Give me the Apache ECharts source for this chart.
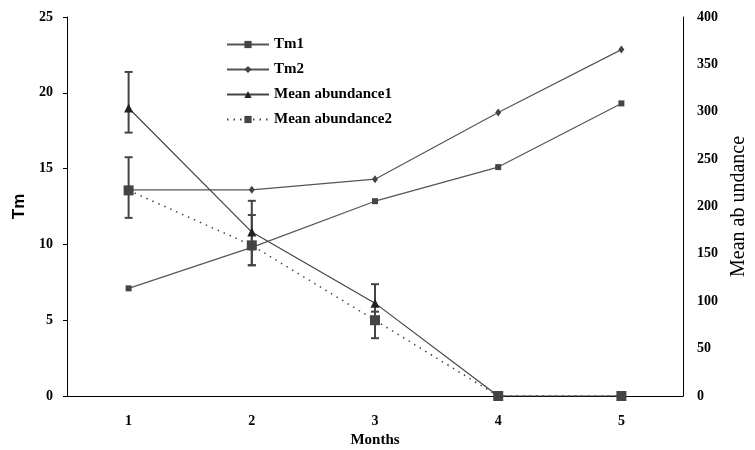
<!DOCTYPE html>
<html>
<head>
<meta charset="utf-8">
<script src="https://cdn.jsdelivr.net/npm/echarts@6/dist/echarts.min.js"></script>
<style>
  html, body { margin: 0; padding: 0; background: #fff; }
  #chart { width: 755px; height: 450px; }
</style>
</head>
<body>
<div id="chart"></div>
<script>
  // data
  var months = ['1', '2', '3', '4', '5'];
  var tm1 = [7.1, 9.8, 12.85, 15.1, 19.3];
  var tm2 = [13.6, 13.6, 14.3, 18.7, 22.85];
  var abundance1 = [304, 173, 98, 0, 0];
  var abundance2 = [217, 159, 80, 0, 0];
  // error bar ranges [low, high]
  var err1 = [[278, 342], [138, 206], [78, 118]];
  var err2 = [[188, 252], [138, 191], [61, 89]];

  var serif = '"Liberation Serif", "Times New Roman", serif';

  function errorSeries(name, ranges) {
    return {
      name: name,
      type: 'custom',
      yAxisIndex: 1,
      z: 3,
      data: ranges.map(function (r, i) { return [i, r[0], r[1]]; }),
      renderItem: function (params, api) {
        var lo = api.coord([api.value(0), api.value(1)]);
        var hi = api.coord([api.value(0), api.value(2)]);
        var w = 4;
        var st = { stroke: '#444', lineWidth: 2 };
        return {
          type: 'group',
          children: [
            { type: 'line', shape: { x1: hi[0], y1: hi[1], x2: lo[0], y2: lo[1] }, style: st },
            { type: 'line', shape: { x1: hi[0] - w, y1: hi[1], x2: hi[0] + w, y2: hi[1] }, style: st },
            { type: 'line', shape: { x1: lo[0] - w, y1: lo[1], x2: lo[0] + w, y2: lo[1] }, style: st }
          ]
        };
      },
      tooltip: { show: false }
    };
  }

  var chart = echarts.init(document.getElementById('chart'));
  chart.setOption({
    animation: false,
    backgroundColor: '#fff',
    grid: { left: 67, right: 72, top: 17, bottom: 54, outerBoundsMode: 'none', containLabel: false },
    legend: {
      orient: 'vertical',
      left: 226,
      top: 37,
      padding: 0,
      itemWidth: 42,
      itemHeight: 9,
      itemGap: 10,
      textStyle: { fontFamily: serif, fontWeight: 'bold', fontSize: 15, color: '#000' },
      data: ['Tm1', 'Tm2', 'Mean abundance1', 'Mean abundance2']
    },
    xAxis: {
      type: 'category',
      data: months,
      name: 'Months',
      nameLocation: 'middle',
      nameGap: 34,
      nameTextStyle: { fontFamily: serif, fontWeight: 'bold', fontSize: 15, color: '#000' },
      axisLine: { lineStyle: { color: '#000', width: 1 } },
      axisTick: { inside: true, length: 4, lineStyle: { color: '#000' } },
      axisLabel: { margin: 18, fontFamily: serif, fontWeight: 'bold', fontSize: 14, color: '#000' }
    },
    yAxis: [
      {
        type: 'value',
        min: 0, max: 25, interval: 5,
        name: 'Tm',
        nameLocation: 'middle',
        nameGap: 38,
        nameRotate: 90,
        nameTextStyle: { fontFamily: '"Liberation Sans", Arial, sans-serif', fontWeight: 'bold', fontSize: 17, color: '#000' },
        splitLine: { show: false },
        axisLine: { show: true, lineStyle: { color: '#000' } },
        axisTick: { show: true, length: 4, lineStyle: { color: '#000' } },
        axisLabel: { margin: 14, fontFamily: serif, fontWeight: 'bold', fontSize: 14, color: '#000' }
      },
      {
        type: 'value',
        min: 0, max: 400, interval: 50,
        name: 'Mean ab undance',
        nameLocation: 'middle',
        nameGap: 46,
        nameRotate: 90,
        nameTextStyle: { fontFamily: serif, fontSize: 20, color: '#000' },
        splitLine: { show: false },
        axisLine: { show: true, lineStyle: { color: '#000' } },
        axisTick: { show: false },
        axisLabel: { margin: 14, fontFamily: serif, fontWeight: 'bold', fontSize: 14, color: '#000' }
      }
    ],
    series: [
      {
        name: 'Tm1', type: 'line', data: tm1, yAxisIndex: 0,
        symbol: 'rect', symbolSize: 6,
        itemStyle: { color: '#444' },
        lineStyle: { color: '#555', width: 1.2 }
      },
      {
        name: 'Tm2', type: 'line', data: tm2, yAxisIndex: 0,
        symbol: 'diamond', symbolSize: [6, 8],
        itemStyle: { color: '#444' },
        lineStyle: { color: '#555', width: 1.2 }
      },
      {
        name: 'Mean abundance1', type: 'line', data: abundance1, yAxisIndex: 1,
        symbol: 'triangle', symbolSize: 9,
        itemStyle: { color: '#222' },
        lineStyle: { color: '#444', width: 1.2 }
      },
      {
        name: 'Mean abundance2', type: 'line', data: abundance2, yAxisIndex: 1,
        symbol: 'rect', symbolSize: 10,
        itemStyle: { color: '#444' },
        lineStyle: { color: '#444', width: 1.5, type: [1.5, 5] }
      },
      errorSeries('err1', err1),
      errorSeries('err2', err2)
    ]
  });
</script>
</body>
</html>
